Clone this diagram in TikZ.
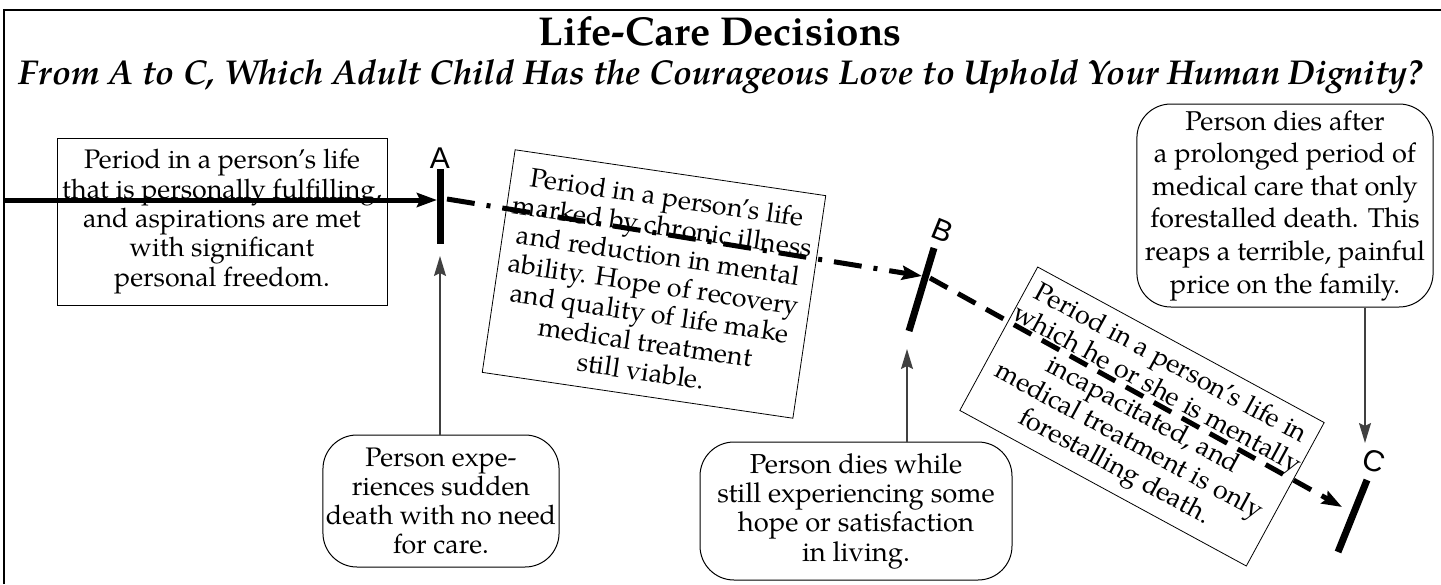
\documentclass[tikz,border=0pt]{standalone}
\usepackage{fontspec}
\setmainfont{TeX Gyre Pagella}
\newfontfamily\labelfont{Liberation Sans}
\usetikzlibrary{arrows.meta}
\begin{document}
\begin{tikzpicture}[x=0.5pt,y=-0.5pt,
  txt/.style={font=\fontsize{13.4pt}{14.65pt}\selectfont, align=center, inner sep=0pt},
  sqbox/.style={txt, draw, line width=0.5pt},
  tiltbox/.style={txt, draw, line width=0.4pt},
  rbox/.style={txt, draw, line width=0.5pt, rounded corners=17pt, inner xsep=4pt},
  bar/.style={line width=3.5pt},
  thickline/.style={line width=2.5pt},
  bigtip/.style={-{Stealth[length=10pt,width=7pt,inset=1.5pt]}},
  thinarrow/.style={draw=black!75, line width=0.8pt, -{Stealth[length=10pt,width=6pt,inset=1.5pt]}},
  letter/.style={font=\labelfont\fontsize{15pt}{15pt}\selectfont, inner sep=0pt}
]
\useasboundingbox (0,0) rectangle (1441,584);
\draw[line width=1pt] (3.5,584) -- (3.5,9.5) -- (1441,9.5);

% titles
\node (title) at (720,31) {\resizebox{181.5pt}{!}{\fontsize{20pt}{24pt}\selectfont\bfseries Life-Care Decisions}};
\node (sub) at (721,77) {\resizebox{702pt}{!}{\fontsize{18pt}{22pt}\selectfont\bfseries\itshape From A to C, Which Adult Child Has the Courageous Love to Uphold Your Human Dignity?}};

% period boxes
\node[sqbox, minimum width=165pt, minimum height=83.5pt] (p1) at (222,221.5)
  {Period in a person’s life\\that is personally fulfilling,\\and aspirations are met\\with significant\\personal freedom.};
\node[tiltbox, rotate=-8.4, minimum width=157pt, minimum height=112.5pt] (p2) at (654,284)
  {Period in a person’s life\\marked by chronic illness\\and reduction in mental\\ability. Hope of recovery\\and quality of life make\\medical treatment\\still viable.};
\node[tiltbox, rotate=-28.5, minimum width=163pt, minimum height=81.6pt] (p3) at (1142,416.5)
  {Period in a person’s life in\\which he or she is mentally\\incapacitated, and\\medical treatment is only\\forestalling death.};

% death boxes
\node[rbox, inner xsep=1.5pt, minimum height=66pt] (d1) at (441,501)
  {Person expe-\\riences sudden\\death with no need\\for care.};
\node[rbox, font=\fontsize{13.7pt}{14.65pt}\selectfont, minimum width=156pt, minimum height=69pt] (d2) at (856,511)
  {Person dies while\\still experiencing some\\hope or satisfaction\\in living.};
\node[rbox, font=\fontsize{13.6pt}{16.3pt}\selectfont, minimum width=145pt, minimum height=101.5pt] (d3) at (1285,205.5)
  {Person dies after\\a prolonged period of\\medical care that only\\forestalled death. This\\reaps a terrible, painful\\price on the family.};

% coordinates
\coordinate (mstart) at (4,200);
\coordinate (Atip) at (437,200);
\coordinate (Atop) at (440,169);
\coordinate (Abot) at (440,244);
\coordinate (Aout) at (447,199);
\coordinate (Btip) at (922,276);
\coordinate (Btop) at (934,248);
\coordinate (Bbot) at (909,331);
\coordinate (Bout) at (930,278);
\coordinate (Ctip) at (1342,507);
\coordinate (Ctop) at (1367,480);
\coordinate (Cbot) at (1338,552);
\coordinate (Aup) at (440,256);
\coordinate (Bup) at (907,349);
\coordinate (Cdn) at (1365,443);

% timeline
\draw[thickline, bigtip] (mstart) -- (Atip);
\draw[bar] (Atop) -- (Abot);
\node[letter] (la) at (440,158) {A};
\draw[thickline, bigtip, dash pattern=on 14pt off 6pt on 2pt off 6pt] (Aout) -- (Btip);
\draw[bar] (Btop) -- (Bbot);
\node[letter, rotate=-22] (lb) at (943,231) {B};
\draw[thickline, bigtip, dash pattern=on 10pt off 6pt] (Bout) -- (Ctip);
\draw[bar] (Ctop) -- (Cbot);
\node[letter, rotate=-18] (lc) at (1374,461) {C};

% pointers
\draw[thinarrow] (d1.north -| Aup) -- (Aup);
\draw[thinarrow] (d2.north -| Bup) -- (Bup);
\draw[thinarrow] (d3.south -| Cdn) -- (Cdn);
\end{tikzpicture}
\end{document}
